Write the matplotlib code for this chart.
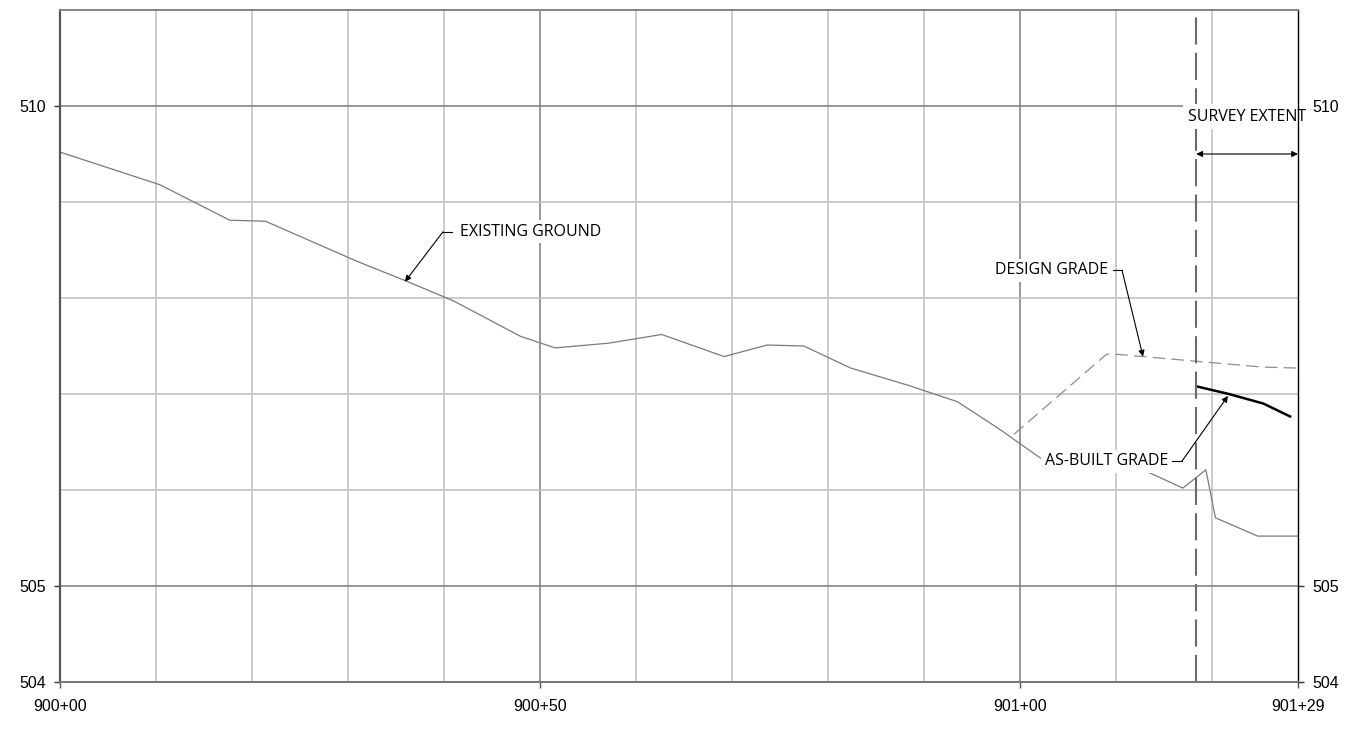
import matplotlib
matplotlib.use("Agg")
import matplotlib.pyplot as plt

# ---- data ----
eg_sta = [0, 10.4, 17.7, 21.4, 31.0, 36.0, 41.0, 48.0, 51.6, 57.2, 62.7, 69.2,
          73.7, 77.5, 82.4, 88.4, 93.5, 97.8, 102.2, 109.5, 113.3, 117.0, 119.4,
          120.4, 124.8, 129.0]
eg_elev = [509.52, 509.18, 508.81, 508.80, 508.38, 508.18, 507.97, 507.60, 507.48,
           507.53, 507.62, 507.39, 507.51, 507.50, 507.27, 507.09, 506.92, 506.64,
           506.33, 506.27, 506.19, 506.02, 506.21, 505.71, 505.52, 505.52]
dg_sta = [99.4, 109.0, 109.4, 125.4, 129.0]
dg_elev = [506.58, 507.41, 507.42, 507.28, 507.27]
ab_sta = [118.4, 121.8, 125.4, 128.3]
ab_elev = [507.08, 507.00, 506.90, 506.76]
survey_sta = 118.4
x_ticks = [0, 50, 100, 129]
x_labels = ["900+00", "900+50", "901+00", "901+29"]
y_ticks = [504, 505, 510]
y_labels = ["504", "505", "510"]

W, H = 1356, 729
fig = plt.figure(figsize=(W / 100, H / 100), dpi=100)
ax = fig.add_axes([60 / W, 1 - 682 / H, (1298 - 60) / W, (682 - 10) / H])
ax.set_xlim(0, 129)
ax.set_ylim(504, 511)

minor_c = "#c2c2c2"
major_c = "#858585"
# grid
for s in range(10, 130, 10):
    c = major_c if s % 50 == 0 else minor_c
    ax.axvline(s, color=c, lw=1.2, zorder=1)
for e in range(505, 511):
    c = major_c if e in (505, 510) else minor_c
    ax.axhline(e, color=c, lw=1.2, zorder=1)

# spines
for k in ax.spines:
    ax.spines[k].set_zorder(5)
ax.spines["left"].set_color("#555555")
ax.spines["left"].set_linewidth(1.6)
ax.spines["right"].set_color("black")
ax.spines["right"].set_linewidth(1.0)
ax.spines["top"].set_color(major_c)
ax.spines["top"].set_linewidth(1.4)
ax.spines["bottom"].set_color("#777777")
ax.spines["bottom"].set_linewidth(1.4)

tick_font = dict(family="Liberation Sans", size=11.5)
ax.set_xticks(x_ticks)
ax.set_xticklabels(x_labels, **tick_font)
ax.set_yticks(y_ticks)
ax.set_yticklabels(y_labels, **tick_font)
ax.tick_params(axis="x", direction="out", length=4, width=1, color="#555555", pad=8)
ax.tick_params(axis="y", direction="out", length=4, width=1, color="#333333", pad=6,
               left=True, right=True, labelleft=True, labelright=True)

# lines
ax.plot(eg_sta, eg_elev, color="#7a7a7a", lw=0.9, zorder=3)
ax.plot(dg_sta, dg_elev, color="#8e8e8e", lw=0.9, dashes=(10, 5), zorder=3)
ax.plot(ab_sta, ab_elev, color="black", lw=1.8, zorder=3, solid_capstyle="butt")
ax.axvline(survey_sta, color="#6a6a6a", lw=1.5, dashes=(13, 4), zorder=4)

ann_font = dict(family="Open Sans", size=11.5, color="black")
bbox = dict(facecolor="white", edgecolor="none", pad=2.5)

def leader(tx, ty, hx, tipx, tipy):
    ax.plot([tx, hx], [ty, ty], color="black", lw=0.8, zorder=6)
    ax.annotate("", xy=(tipx, tipy), xytext=(hx, ty),
                arrowprops=dict(arrowstyle="-|>", color="black", lw=0.8,
                                mutation_scale=9, shrinkA=0, shrinkB=0), zorder=6)

# EXISTING GROUND
ax.text(41.7, 508.69, "EXISTING GROUND", ha="left", va="center", bbox=bbox, zorder=4, **ann_font)
leader(40.85, 508.69, 39.91, 35.95, 508.17)
# DESIGN GRADE
ax.text(109.2, 508.29, "DESIGN GRADE", ha="right", va="center", bbox=bbox, zorder=4, **ann_font)
leader(109.7, 508.29, 110.66, 112.85, 507.39)
# AS-BUILT GRADE
ax.text(115.45, 506.30, "AS-BUILT GRADE", ha="right", va="center", bbox=bbox, zorder=4, **ann_font)
leader(115.87, 506.30, 116.91, 121.7, 506.98)
# SURVEY EXTENT
t = ax.text(123.7, 509.89, "SURVEY EXTENT", ha="center", va="center",
            bbox=dict(facecolor="white", edgecolor="none", pad=3.5), zorder=4.5,
            clip_on=False, **ann_font)
ax.annotate("", xy=(survey_sta, 509.5), xytext=(129, 509.5),
            arrowprops=dict(arrowstyle="<|-|>", color="black", lw=0.8,
                            mutation_scale=9, shrinkA=0, shrinkB=0), zorder=6)

fig.savefig("out.png", dpi=100, facecolor="white")
